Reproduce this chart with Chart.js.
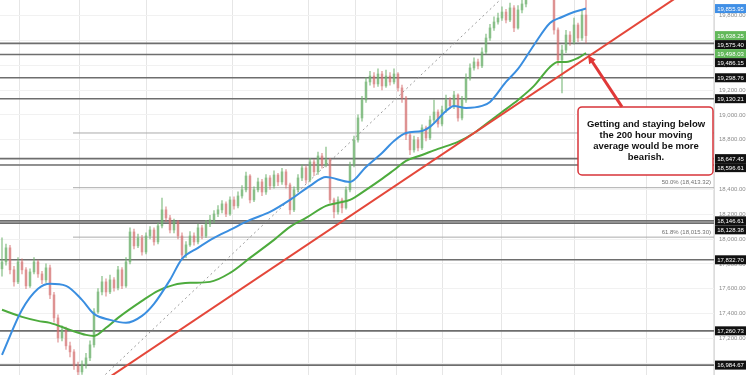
<!DOCTYPE html>
<html><head><meta charset="utf-8">
<script src="https://cdn.jsdelivr.net/npm/chart.js@4/dist/chart.umd.min.js"></script>
<style>html,body{margin:0;padding:0;background:#fff;}canvas{display:block;}</style>
</head><body>
<canvas id="c" width="750" height="375" style="width:750px;height:375px"></canvas>
<script>
// ---- data (hourly candles) ----
const firstOpen = 17760;
const closes = [17816,17929,17752,17655,17816,17752,17623,17735,17816,17719,
 17671,17768,17550,17365,17204,17269,17140,17091,16979,16930,
 16987,17043,17148,17413,17574,17655,17574,17671,17607,17752,
 17623,17816,18057,17945,18009,17896,18025,18073,17977,18106,
 18235,18170,18073,18138,18025,17872,17953,18025,17977,18090,
 18025,18122,18154,18202,18235,18283,18202,18315,18267,18347,
 18396,18508,18315,18396,18460,18379,18492,18428,18516,18460,
 18541,18436,18235,18396,18492,18573,18476,18621,18541,18669,
 18597,18637,18315,18219,18315,18251,18396,18597,18798,18975,
 19120,19265,19313,19249,19329,19233,19313,19265,19329,19217,
 19136,18838,18718,18798,18734,18895,18814,18959,19023,18927,
 19040,19120,19072,19160,18975,19120,19297,19378,19426,19394,
 19506,19619,19700,19748,19780,19828,19764,19861,19700,19845,
 19893,19973,20022,20050,20080,20060,20040,19990,19684,19442,
 19522,19643,19587,19724,19619,19804,19638.25];
const highs = [18010,17960,17950,17780,17850,17840,17770,17760,17850,17830,
 17740,17800,17790,17570,17390,17300,17290,17170,17110,17010,
 17020,17080,17180,17440,17600,17700,17680,17710,17690,17780,
 17770,17850,18090,18080,18040,18030,18050,18100,18090,18130,
 18330,18260,18190,18160,18150,18050,17980,18060,18050,18120,
 18110,18150,18190,18230,18270,18310,18300,18340,18340,18380,
 18430,18540,18520,18420,18490,18480,18520,18510,18550,18530,
 18570,18560,18450,18420,18520,18600,18590,18650,18640,18700,
 18690,18740,18650,18330,18340,18330,18420,18620,18830,19000,
 19150,19300,19350,19340,19370,19350,19360,19340,19370,19340,
 19240,19150,18860,18830,18820,18920,18910,18990,19120,19040,
 19070,19160,19140,19190,19170,19150,19330,19410,19460,19450,
 19540,19650,19730,19790,19820,19870,19850,19900,19880,19880,
 19940,20010,20060,20090,20100,20100,20090,20070,20010,19700,
 19560,19680,19670,19780,19740,19840,19940];
const lows = [17700,17790,17720,17620,17640,17720,17600,17610,17720,17690,
 17640,17650,17520,17330,17170,17180,17110,17050,16950,16900,
 16910,16960,17020,17130,17400,17550,17540,17560,17580,17590,
 17600,17610,17800,17920,17930,17870,17880,18000,17950,17960,
 18090,18140,18050,18050,18000,17840,17850,17940,17950,17960,
 18000,18010,18100,18130,18180,18210,18180,18190,18240,18250,
 18330,18380,18290,18300,18380,18350,18360,18400,18410,18430,
 18440,18410,18200,18220,18380,18470,18450,18460,18510,18520,
 18570,18580,18290,18170,18200,18210,18240,18380,18580,18780,
 18950,19100,19240,19220,19230,19200,19220,19240,19250,19190,
 19100,18800,18680,18700,18710,18720,18790,18800,18940,18900,
 18910,19020,19050,19050,18950,18960,19100,19280,19360,19370,
 19380,19490,19600,19680,19730,19760,19740,19750,19670,19690,
 19820,19870,19950,20000,20030,20030,20010,19960,19650,19400,
 19176,19500,19560,19570,19590,19600,19580];

// 100-hour MA (blue) and 200-hour MA (green), read at candle indices
const ma100Idx = [0,5,9,12,16,20,23,27,31,35,38,42,45,49,53,57,62,67,72,77,81,87,91,95,98,101,105,107,111,113,116,120,122,126,129,133,137,140,143,146];
const ma100Val = [17067,17430,17599,17639,17623,17510,17397,17349,17325,17381,17478,17671,17840,17929,18009,18073,18154,18218,18315,18428,18500,18460,18581,18693,18790,18854,18870,18903,19031,19072,19056,19072,19104,19265,19370,19563,19740,19788,19828,19855.95];
const ma200Idx = [0,5,9,12,17,21,23,26,29,35,39,43,47,52,57,62,68,72,76,81,84,87,91,95,98,101,105,109,114,118,122,125,129,133,137,139,141,144,146];
const ma200Val = [17430,17373,17341,17325,17268,17228,17220,17285,17365,17502,17583,17631,17647,17655,17727,17848,17993,18098,18170,18267,18291,18315,18396,18484,18556,18629,18677,18726,18782,18854,18951,19023,19120,19233,19386,19426,19426,19458,19498.03];

// trend line (red) and channel line (dotted), two anchor points each
const trendIdx = [20, 175], trendVal = [16729, 20072];
const channelIdx = [20, 130], channelVal = [16715, 20078];

// horizontal levels
const levels = [19575.40,19486.15,19298.76,19130.21,18647.45,18596.61,18146.61,18128.38,17832.70,17260.73,16984.67];
const fibStartIdx = 18.25;
const fibLevels = [18854, 18413.32, 18015.30];
const fibLabels = ['', '50.0% (18,413.32)', '61.8% (18,015.30)'];
const lastPrice = 19638.25;
const ma100Last = 19855.95, ma200Last = 19498.03;

const yTicks = [17000,17200,17400,17600,17800,18000,18200,18400,18600,18800,19000,19200,19400,19600,19800];
const xGrid = [12.25,27.25,45.75,70.5,83.75,93.75,104.5,116.75,133.75,153.25,170];
const xMax = 178.5, yMin = 16905, yMax = 19925;

const note = ['Getting and staying below','the 200 hour moving','average would be more','bearish.'];
const noteX = [144.5, xMax], noteTop = 19064, noteBottom = 18516;
const arrowTail = {x: 155.5, y: 19064}, arrowTip = {x: 147, y: 19480};

// ---- build ----
const fmt = v => Number(v).toLocaleString('en-US',{minimumFractionDigits:2, maximumFractionDigits:2});
const opens = closes.map((c,i)=> i===0 ? firstOpen : closes[i-1]);
const UP = 'rgba(110,178,110,0.62)', DOWN = 'rgba(212,112,112,0.55)';
const candleCol = closes.map((c,i)=> c>=opens[i] ? UP : DOWN);

const datasets = [];
levels.forEach(v => datasets.push({type:'line', data:[{x:0,y:v},{x:xMax,y:v}], borderColor:'#6e6e6e', borderWidth:1.6, pointRadius:0, order:20, clip:0}));
fibLevels.forEach(v => datasets.push({type:'line', data:[{x:fibStartIdx,y:v},{x:xMax,y:v}], borderColor:'#ababab', borderWidth:1, pointRadius:0, order:20, clip:0}));
datasets.push({type:'line', data: channelIdx.map((x,i)=>({x, y:channelVal[i]})), borderColor:'#9a9a9a', borderWidth:1, borderDash:[2,3], pointRadius:0, order:15, clip:0});
datasets.push({type:'bar', data: closes.map((c,i)=>({x:i+0.5, y:[lows[i], highs[i]]})), backgroundColor:candleCol, barThickness:1, grouped:false, order:10});
datasets.push({type:'bar', data: closes.map((c,i)=>({x:i+0.5, y:[opens[i], c]})), backgroundColor:candleCol, barThickness:2, grouped:false, order:9, minBarLength:1});
datasets.push({type:'line', data: ma200Idx.map((x,i)=>({x:x+0.5, y:ma200Val[i]})), borderColor:'#4dab3d', borderWidth:2, pointRadius:0, cubicInterpolationMode:'monotone', order:3, clip:0});
datasets.push({type:'line', data: ma100Idx.map((x,i)=>({x:x+0.5, y:ma100Val[i]})), borderColor:'#3a8ee0', borderWidth:2, pointRadius:0, cubicInterpolationMode:'monotone', order:2, clip:0});
datasets.push({type:'line', data: trendIdx.map((x,i)=>({x, y:trendVal[i]})), borderColor:'#e4473a', borderWidth:2, pointRadius:0, order:1, clip:0});

const overlay = {
  id:'overlay',
  afterDraw(chart){
    const ctx = chart.ctx, xs = chart.scales.x, ys = chart.scales.y, ca = chart.chartArea;
    ctx.save();
    // fib labels
    ctx.font = '6px "Liberation Sans", Arial, sans-serif';
    ctx.fillStyle = '#707070'; ctx.textAlign='right'; ctx.textBaseline='bottom';
    fibLevels.forEach((v,i)=>{ if(fibLabels[i]) ctx.fillText(fibLabels[i], ca.right-3, ys.getPixelForValue(v)-2); });
    // note box
    const bx = xs.getPixelForValue(noteX[0]), bx2 = xs.getPixelForValue(noteX[1]);
    const by = ys.getPixelForValue(noteTop), by2 = ys.getPixelForValue(noteBottom);
    ctx.beginPath(); ctx.roundRect(bx, by, bx2-bx-1, by2-by, 4);
    ctx.fillStyle='#fff'; ctx.fill(); ctx.strokeStyle='#d8343a'; ctx.lineWidth=1.5; ctx.stroke();
    ctx.fillStyle='#111'; ctx.textAlign='center'; ctx.textBaseline='middle';
    ctx.font = 'bold 9.5px "Liberation Sans", Arial, sans-serif';
    const cx = (bx+bx2)/2, cy = (by+by2)/2;
    note.forEach((t,i)=> ctx.fillText(t, cx, cy + (i-(note.length-1)/2)*11));
    // arrow
    const tx = xs.getPixelForValue(arrowTail.x), ty = ys.getPixelForValue(arrowTail.y);
    const hx = xs.getPixelForValue(arrowTip.x), hy = ys.getPixelForValue(arrowTip.y);
    const ang = Math.atan2(hy-ty, hx-tx), hl = 9;
    ctx.strokeStyle='#e03838'; ctx.fillStyle='#e03838'; ctx.lineWidth=3;
    ctx.beginPath(); ctx.moveTo(tx,ty); ctx.lineTo(hx-Math.cos(ang)*hl*0.8, hy-Math.sin(ang)*hl*0.8); ctx.stroke();
    ctx.beginPath(); ctx.moveTo(hx,hy);
    ctx.lineTo(hx-Math.cos(ang-0.45)*hl, hy-Math.sin(ang-0.45)*hl);
    ctx.lineTo(hx-Math.cos(ang+0.45)*hl, hy-Math.sin(ang+0.45)*hl);
    ctx.closePath(); ctx.fill();
    // price tags on axis
    const tags = levels.map(v=>({v, bg:'#111'}));
    tags.push({v:lastPrice, bg:'#62b85a'}, {v:ma100Last, bg:'#3f8fe6'}, {v:ma200Last, bg:'#62b85a'});
    tags.sort((a,b)=>b.v-a.v);
    let prev = -100;
    ctx.font = '6px "Liberation Sans", Arial, sans-serif'; ctx.textAlign='center'; ctx.textBaseline='middle';
    tags.forEach(t=>{
      let y = ys.getPixelForValue(t.v);
      if (y < prev + 9) y = prev + 9;
      prev = y;
      ctx.fillStyle = t.bg; ctx.fillRect(ca.right+1, y-4.5, 31, 9);
      ctx.fillStyle = '#fff'; ctx.fillText(fmt(t.v), ca.right+16.5, y+0.5);
    });
    ctx.restore();
  }
};

new Chart(document.getElementById('c'), {
  type:'bar',
  data:{datasets},
  options:{
    responsive:false, animation:false, devicePixelRatio:1,
    layout:{padding:0},
    plugins:{legend:{display:false}, tooltip:{enabled:false}},
    scales:{
      x:{type:'linear', min:0, max:xMax, offset:false,
         grid:{color:'#e6e6e6', drawTicks:false}, border:{display:false},
         ticks:{display:false},
         afterBuildTicks: a => { a.ticks = xGrid.map(v=>({value:v})); },
         afterFit: a => { a.height = 0; a.paddingLeft = 0; a.paddingRight = 0; }},
      y:{type:'linear', position:'right', min:yMin, max:yMax,
         grid:{color:'#f1f1f1', drawTicks:false}, border:{color:'#dcdcdc'},
         ticks:{font:{size:6, family:'"Liberation Sans", Arial, sans-serif'}, color:'#8c8c8c', padding:5, callback:v=>fmt(v)},
         afterBuildTicks: a => { a.ticks = yTicks.map(v=>({value:v})); },
         afterFit: a => { a.width = 36; a.paddingTop = 0; a.paddingBottom = 0; }}
    }
  },
  plugins:[overlay]
});
</script>
</body></html>
